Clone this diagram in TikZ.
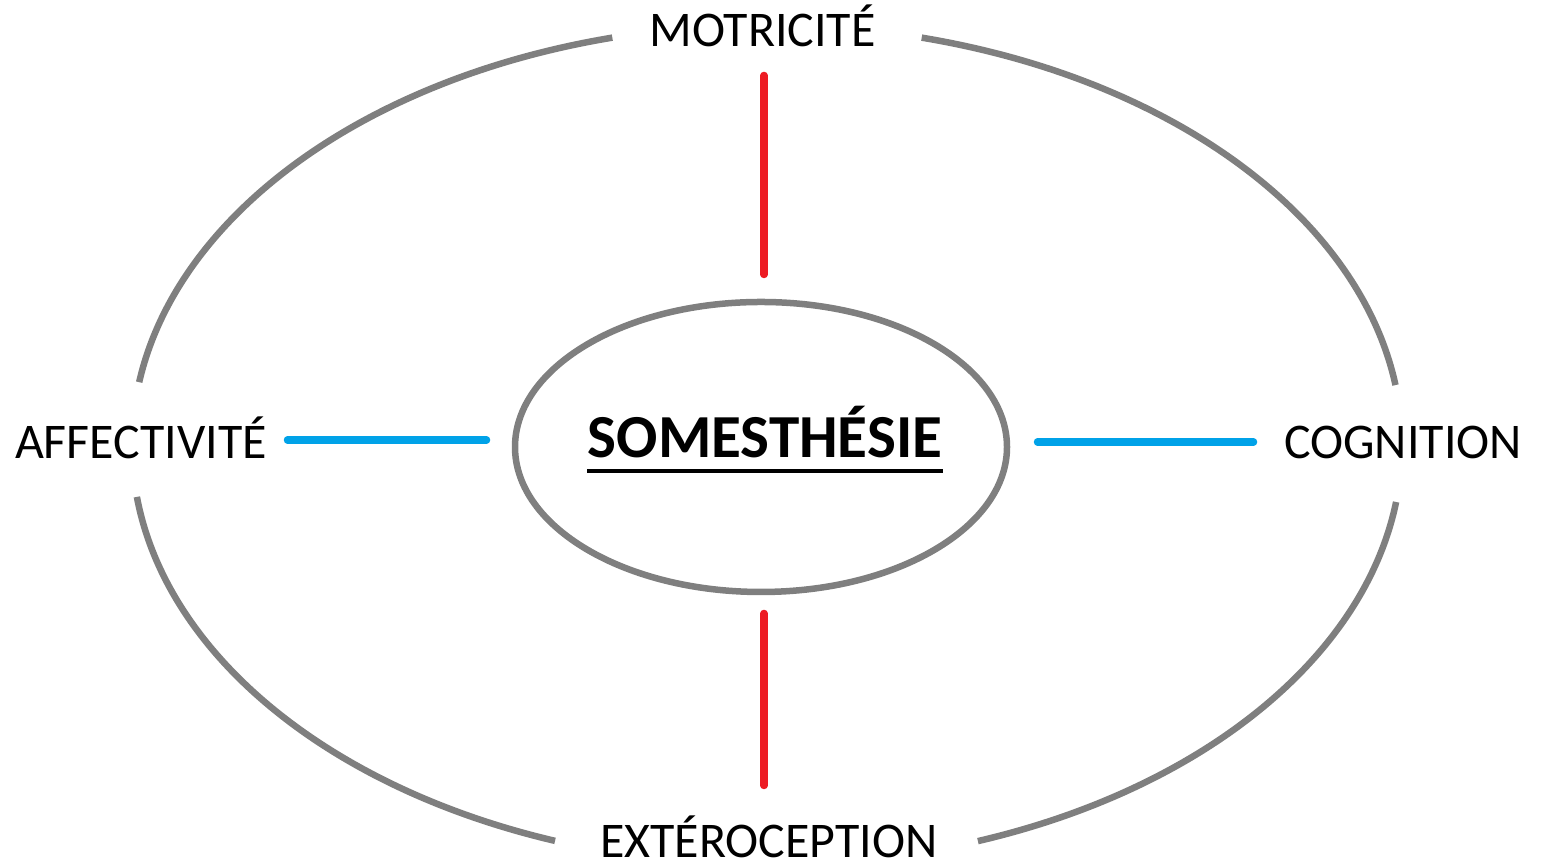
\documentclass[tikz,border=0pt]{standalone}
\usepackage{fontspec}
\setmainfont{Carlito}
\usetikzlibrary{shapes.geometric}

\definecolor{gris}{RGB}{127,127,127}
\definecolor{rouge}{RGB}{237,28,36}
\definecolor{bleu}{RGB}{0,162,232}

\begin{document}
\begin{tikzpicture}[
	contour/.style={draw=gris, line width=0.065cm},
	axe/.style={line width=0.075cm, line cap=round},
	pole/.style={font=\fontsize{14.2}{16}\selectfont, inner sep=0pt, anchor=base},
]

	\useasboundingbox (0,0) rectangle (15.5,8.64);

	% outer ring radii
	\def\rx{6.35}
	\def\ry{4.20}
	\coordinate (O) at (7.67,4.19);

	% outer ring, open at the four poles
	\foreach \a/\b in {8.2/75.9, 104.1/171.4, 187.1/250.5, 289.4/352.2}
		\draw[contour] (O) ++(\a:\rx cm and \ry cm)
			arc[start angle=\a, end angle=\b, x radius=\rx cm, y radius=\ry cm];

	% poles
	\node[pole] (motricite)     at (7.625,8.17) {MOTRICITÉ};
	\node[pole] (affectivite)   at (1.41,4.05)  {AFFECTIVITÉ};
	\node[pole] (cognition)     at (14.03,4.05) {COGNITION};
	\node[pole] (exteroception) at (7.69,0.06)  {EXTÉROCEPTION};

	% inner ellipse
	\node[contour, ellipse, minimum width=4.92cm, minimum height=2.90cm] (noyau)
		at (7.61,4.17) {};

	% title
	\node[font=\bfseries\fontsize{17.4}{20}\selectfont, inner sep=0pt, anchor=base]
		(titre) at (7.65,4.06) {SOMESTHÉSIE};
	\draw[line width=0.045cm] ([yshift=-0.13cm]titre.base west)
		-- ([yshift=-0.13cm]titre.base east);

	% ends of the axes
	\coordinate (m1) at (7.64,7.885);
	\coordinate (m2) at (7.64,5.895);
	\coordinate (e1) at (7.64,2.505);
	\coordinate (e2) at (7.64,0.785);
	\coordinate (a1) at (2.875,4.24);
	\coordinate (a2) at (4.865,4.24);
	\coordinate (c1) at (10.375,4.22);
	\coordinate (c2) at (12.535,4.22);

	% axes
	\draw[axe, rouge] (m1) -- (m2);
	\draw[axe, rouge] (e1) -- (e2);
	\draw[axe, bleu] (a1) -- (a2);
	\draw[axe, bleu] (c1) -- (c2);

\end{tikzpicture}
\end{document}
